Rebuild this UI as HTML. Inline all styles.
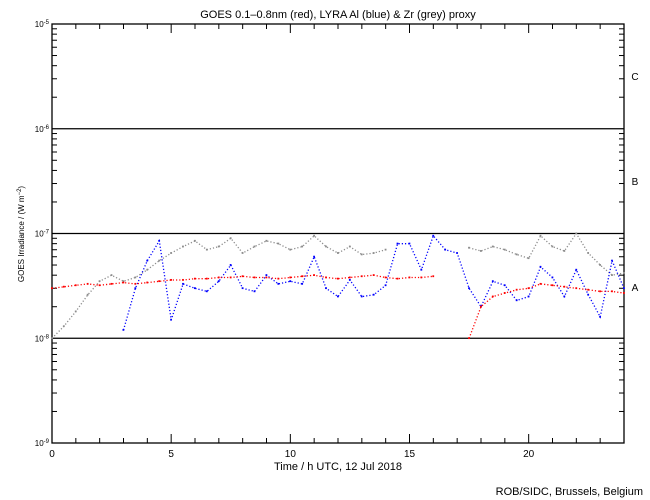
<!DOCTYPE html>
<html><head><meta charset="utf-8"><style>
body{margin:0;background:#fff;}
svg{display:block;font-family:"Liberation Sans",sans-serif;}
</style></head><body>
<svg id="chart" width="650" height="500" viewBox="0 0 650 500">
<rect width="650" height="500" fill="#fff"/>
<text x="338" y="18" font-size="11" text-anchor="middle">GOES 0.1–0.8nm (red), LYRA Al (blue) &amp; Zr (grey) proxy</text>
<text transform="translate(24,234) rotate(-90)" font-size="8" text-anchor="middle">GOES Irradiance / (W m<tspan baseline-shift="super" font-size="6">−2</tspan>)</text>
<text x="338" y="470" font-size="11" text-anchor="middle">Time / h UTC, 12 Jul 2018</text>
<text x="643" y="495" font-size="11" text-anchor="end">ROB/SIDC, Brussels, Belgium</text>
<g id="axes"></g>
<g id="marks"></g>
<text x="635" y="80" font-size="10" text-anchor="middle">C</text>
<text x="635" y="185" font-size="10" text-anchor="middle">B</text>
<text x="635" y="291" font-size="10" text-anchor="middle">A</text>
</svg>
<script>
const hours = [0,0.5,1,1.5,2,2.5,3,3.5,4,4.5,5,5.5,6,6.5,7,7.5,8,8.5,9,9.5,10,10.5,11,11.5,12,12.5,13,13.5,14,14.5,15,15.5,16,16.5,17,17.5,18,18.5,19,19.5,20,20.5,21,21.5,22,22.5,23,23.5,24];
const goesRed = [3.0e-8,3.1e-8,3.2e-8,3.3e-8,3.2e-8,3.3e-8,3.4e-8,3.3e-8,3.4e-8,3.5e-8,3.6e-8,3.6e-8,3.7e-8,3.7e-8,3.8e-8,3.8e-8,3.9e-8,3.8e-8,3.8e-8,3.7e-8,3.8e-8,3.9e-8,4.0e-8,3.8e-8,3.7e-8,3.8e-8,3.9e-8,4.0e-8,3.8e-8,3.7e-8,3.8e-8,3.8e-8,3.9e-8,null,null,1.0e-8,2.0e-8,2.5e-8,2.7e-8,2.9e-8,3.0e-8,3.3e-8,3.2e-8,3.1e-8,3.0e-8,2.9e-8,2.8e-8,2.8e-8,2.7e-8];
const lyraAl = [null,null,null,null,null,null,1.2e-8,3.0e-8,5.5e-8,8.5e-8,1.5e-8,3.3e-8,3.0e-8,2.8e-8,3.5e-8,5.0e-8,3.0e-8,2.8e-8,4.0e-8,3.3e-8,3.5e-8,3.3e-8,6.0e-8,3.0e-8,2.5e-8,3.6e-8,2.5e-8,2.6e-8,3.2e-8,8.0e-8,8.0e-8,4.5e-8,9.5e-8,7.0e-8,6.5e-8,3.0e-8,2.0e-8,3.5e-8,3.2e-8,2.3e-8,2.5e-8,4.8e-8,3.8e-8,2.5e-8,4.5e-8,2.6e-8,1.6e-8,5.5e-8,3.0e-8];
const lyraZr = [1.0e-8,1.3e-8,1.8e-8,2.6e-8,3.5e-8,4.0e-8,3.5e-8,3.8e-8,4.5e-8,5.5e-8,6.5e-8,7.5e-8,8.5e-8,7.0e-8,7.5e-8,9.0e-8,6.5e-8,7.5e-8,8.5e-8,8.0e-8,7.0e-8,7.5e-8,9.5e-8,7.5e-8,6.5e-8,7.5e-8,6.3e-8,6.5e-8,7.0e-8,null,null,null,null,null,null,7.3e-8,6.8e-8,7.5e-8,7.0e-8,6.3e-8,5.8e-8,9.5e-8,7.5e-8,6.8e-8,1.0e-7,6.5e-8,5.0e-8,4.0e-8,4.2e-8];
const xTickLabels = ["0","5","10","15","20"];
const yDecades = [-9,-8,-7,-6,-5];

const X0=52,X1=624,Y0=443,Y1=24;
const xs=h=>X0+(X1-X0)*h/24;
const ys=v=>Y0-(Y0-Y1)*(Math.log10(v)+9)/4;
const NS="http://www.w3.org/2000/svg";
function mk(tag,attrs,parent){const e=document.createElementNS(NS,tag);for(const k in attrs)e.setAttribute(k,attrs[k]);parent.appendChild(e);return e;}
const axes=document.getElementById('axes'),marks=document.getElementById('marks');

const frame=mk('rect',{x:X0,y:Y1,width:X1-X0,height:Y0-Y1,fill:'none',stroke:'#000','stroke-width':1.3},axes);



yDecades.forEach(d=>{
  const y=ys(Math.pow(10,d));
  if(d>-9&&d<-5){const l=mk('line',{x1:X0,x2:X1,y1:y,y2:y,stroke:'#000','stroke-width':1.3},axes);
    
    }
  const t=mk('text',{x:X0-3,y:y+3,'font-size':8,'text-anchor':'end'},axes);
  
  
  t.innerHTML='10<tspan baseline-shift="super" font-size="6">'+d+'</tspan>';
  if(d<-5){for(let m=2;m<=9;m++){const yy=ys(m*Math.pow(10,d));
    mk('line',{x1:X0,x2:X0+5,y1:yy,y2:yy,stroke:'#000'},axes);
    mk('line',{x1:X1-5,x2:X1,y1:yy,y2:yy,stroke:'#000'},axes);}}
});
for(let h=0;h<=24;h++){
  const x=xs(h),L=h%5===0?9:5;
  mk('line',{x1:x,x2:x,y1:Y0,y2:Y0-L,stroke:'#000'},axes);
  mk('line',{x1:x,x2:x,y1:Y1,y2:Y1+L,stroke:'#000'},axes);
}
xTickLabels.forEach(s=>{
  const t=mk('text',{x:xs(+s),y:Y0+14,'font-size':10,'text-anchor':'middle'},axes);
  
  
  t.textContent=s;
});

function series(vals,color,name){
  const g=mk('g',{},marks);
  
  
  let seg=[];
  const flush=()=>{if(seg.length>1){const p=mk('polyline',{points:seg.join(' '),fill:'none',stroke:color,'stroke-width':1.3,'stroke-dasharray':'1.2 2'},g);
      
      }seg=[];};
  vals.forEach((v,i)=>{
    if(v==null){flush();return;}
    const x=xs(hours[i]),y=ys(v);seg.push(x.toFixed(1)+','+y.toFixed(1));
    const r=mk('rect',{x:x-1,y:y-1,width:1.8,height:1.8,fill:color},g);
    
    
  });
  flush();
}
series(lyraZr,'#8c8c8c','lyra-zr-series');
series(lyraAl,'#0000ff','lyra-al-series');
series(goesRed,'#ff0000','goes-series');
</script>
</body></html>
